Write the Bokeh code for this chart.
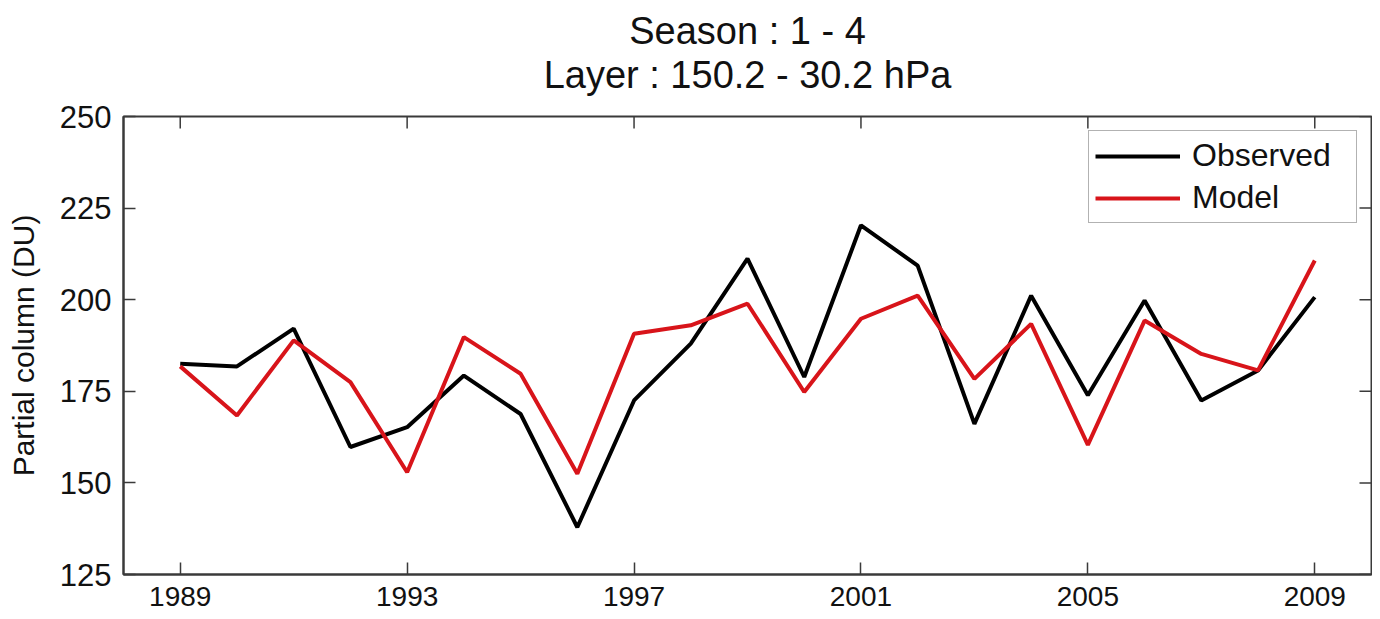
import math
from bokeh.plotting import figure
from bokeh.models import (FixedTicker, Range1d, Title, Legend, LegendItem)
from bokeh.embed import file_html
from bokeh.resources import INLINE

years = list(range(1989, 2010))
observed = [182.5, 181.8, 192.1, 159.8, 165.2, 179.3, 168.8, 137.9, 172.5, 188.0,
            211.2, 178.9, 220.3, 209.3, 166.1, 201.1, 173.9, 199.8, 172.5, 180.7, 200.7]
model = [181.8, 168.4, 188.9, 177.5, 152.9, 189.8, 179.8, 152.5, 190.7, 193.0,
         198.9, 174.8, 194.8, 201.1, 178.4, 193.4, 160.4, 194.3, 185.2, 180.7, 210.7]
x_ticks = [1989, 1993, 1997, 2001, 2005, 2009]
y_ticks = [125, 150, 175, 200, 225, 250]
x_lim = [1988, 2010]
y_lim = [125, 250]
title_lines = ["Season : 1 - 4", "Layer : 150.2 - 30.2 hPa"]
series_names = ["Observed", "Model"]

FONT = "Liberation Sans"
AX = "#3a3a3a"
TXT = "#111111"

p = figure(width=1372, height=619, output_backend="svg", toolbar_location=None,
           x_range=Range1d(*x_lim), y_range=Range1d(*y_lim),
           min_border_left=123, min_border_top=116, min_border_right=1, min_border_bottom=45)
p.xgrid.visible = False
p.ygrid.visible = False
p.outline_line_color = AX
p.outline_line_width = 2
p.background_fill_color = "white"
p.border_fill_color = "white"

xa = p.below[0]
ya = p.left[0]

# titles: earlier added sits closer to the frame
p.add_layout(Title(text=title_lines[1], align="center", text_font=FONT, text_font_size="38px",
                   text_font_style="normal", text_color=TXT, standoff=42,
                   text_line_height=1.0), "above")
p.add_layout(Title(text=title_lines[0], align="center", text_font=FONT, text_font_size="38px",
                   text_font_style="normal", text_color=TXT, standoff=-42), "above")

def style_axis(ax, size):
    ax.axis_line_color = AX
    ax.axis_line_width = 2
    ax.major_tick_line_color = AX
    ax.major_tick_line_width = 1.5
    ax.major_tick_in = 12
    ax.major_tick_out = 0
    ax.minor_tick_line_color = None
    ax.major_label_text_font = FONT
    ax.major_label_text_color = TXT
    ax.major_label_text_font_size = size

xa.ticker = FixedTicker(ticks=x_ticks)
style_axis(xa, "28px")
xa.major_label_standoff = 12

ya.ticker = FixedTicker(ticks=y_ticks)
style_axis(ya, "31px")
ya.major_label_standoff = 12
ya.axis_label = "Partial column (DU)"
ya.axis_label_text_font = FONT
ya.axis_label_text_font_size = "30px"
ya.axis_label_text_font_style = "normal"
ya.axis_label_text_color = TXT
ya.axis_label_standoff = 17

# inward ticks on the top and right edges of the box (MATLAB style)
p.ray(x=x_ticks, y=[y_lim[1]] * len(x_ticks), length=12, length_units="screen",
      angle=-math.pi / 2, line_color=AX, line_width=1.5)
p.ray(x=[x_lim[1]] * len(y_ticks), y=y_ticks, length=12, length_units="screen",
      angle=math.pi, line_color=AX, line_width=1.5)

r_obs = p.line(years, observed, line_color="black", line_width=4)
r_mod = p.line(years, model, line_color="#d8141a", line_width=4)

legend = Legend(items=[LegendItem(label=series_names[0], renderers=[r_obs]),
                       LegendItem(label=series_names[1], renderers=[r_mod])],
                location="top_right", margin=14, padding=6, spacing=5,
                glyph_width=85, glyph_height=32, label_height=32, label_width=158,
                label_standoff=12, label_text_font=FONT, label_text_font_size="32px",
                label_text_color=TXT, border_line_color="#666666", border_line_width=1.5,
                background_fill_color="white", background_fill_alpha=1.0)
p.add_layout(legend)

open("out.html", "w").write(file_html(p, INLINE))
